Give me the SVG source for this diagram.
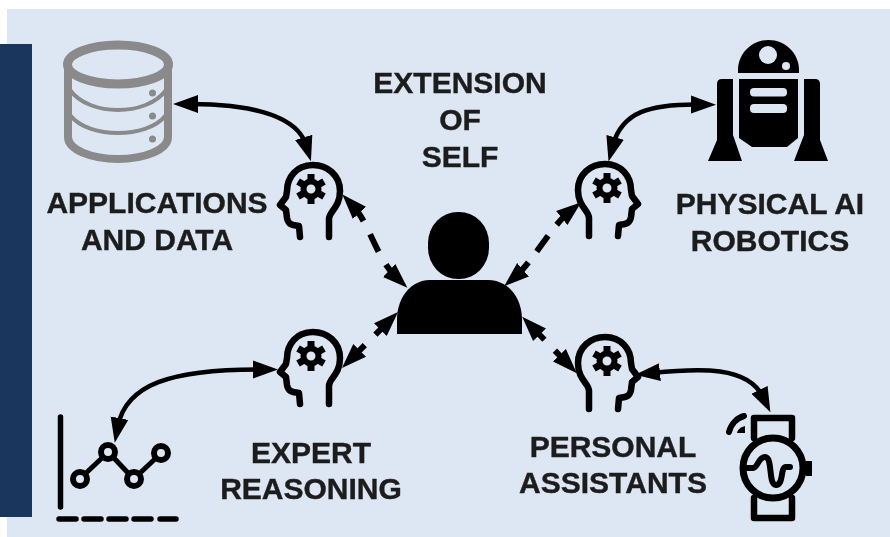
<svg xmlns="http://www.w3.org/2000/svg" xmlns:xlink="http://www.w3.org/1999/xlink" width="890" height="537" viewBox="0 0 890 537">
<style>
.lbl{font-family:"Liberation Sans",Arial,sans-serif;font-weight:700;font-size:30px;fill:#1c1c1c;stroke:#1c1c1c;stroke-width:.4;text-anchor:middle}
.conn{fill:none;stroke:#000;marker-start:url(#head);marker-end:url(#head)}
.solid{stroke-width:4.500}
.dash{stroke-width:6}
.ln{fill:none;stroke:#000;stroke-linecap:round;stroke-linejoin:round}
.db{fill:none;stroke:#8a8a8a}
</style>
<defs>
<filter id="soft" filterUnits="userSpaceOnUse" x="0" y="0" width="890" height="537"><feGaussianBlur stdDeviation="0.6"/></filter>
<marker id="head" markerUnits="userSpaceOnUse" markerWidth="28" markerHeight="22" viewBox="0 0 28 22" refX="8" refY="11" orient="auto-start-reverse">
<polygon points="0,2 25,11 0,20"/>
</marker>
<g id="brain">
<path class="ln" stroke-width="6.500" d="M329,237 V219 C329,211 340,208 340,191 C340,175 327,165 313,165 C297,165 287,177 287,191 L286,197 L280,205 L286,210 L287,218 C288,224 291,225 299,226 L300,237"/>
<circle cx="311" cy="189" r="7.500" fill="none" stroke="#000" stroke-width="6"/>
<path stroke="#000" stroke-width="7" d="M311,174 V180 M311,198 V204 M298,181.500 L303.200,184.500 M318.800,193.500 L324,196.500 M298,196.500 L303.200,193.500 M318.800,184.500 L324,181.500"/>
</g>
</defs>
<rect x="7" y="9" width="883" height="528" fill="#dde7f4"/>
<rect x="0" y="44" width="32" height="473" fill="#1a365d"/>
<g filter="url(#soft)">
<g id="connectors">
<path class="conn solid" d="M190,104 C240,104 296,112 306,145"/>
<path class="conn solid" d="M613,145 C622,112 650,104 699,104.500"/>
<path class="conn solid" d="M118,426 C126,385 170,369 261,369.500"/>
<path class="conn solid" d="M652,373 C700,368 748,366 763,397"/>
<path class="conn dash" stroke-dasharray="17 15 19 15 30" d="M354,207 C368,222 378,260 395,276"/>
<path class="conn dash" stroke-dasharray="17 14 19 14 30" d="M517,275 C532,262 552,226 568,213"/>
<path class="conn dash" stroke-dasharray="15 15 30" d="M386,324 L354,356"/>
<path class="conn dash" stroke-dasharray="15 15 30" d="M534,329 L565,361"/>
</g>

<g id="extension-of-self">
<text class="lbl" x="460" y="93">EXTENSION</text>
<text class="lbl" x="460" y="130">OF</text>
<text class="lbl" x="460" y="167">SELF</text>
</g>

<g id="person">
<rect x="428" y="212" width="61" height="67" rx="30" ry="31"/>
<path d="M397,334 V320 C397,296 412,280 430,280 H488 C507,280 522,296 522,320 V334 Z"/>
</g>

<g id="applications-data">
<ellipse class="db" cx="118" cy="64.500" rx="50.500" ry="19.500" stroke-width="9"/>
<path class="db" stroke-width="8" d="M68,64 V137 C68,150 92,159 118,159 C144,159 168,150 168,137 V64"/>
<path class="db" stroke-width="4" d="M70,90 C80,104 100,110 118,110 C136,110 156,104 166,90 M70,115 C80,128 100,133 118,133 C136,133 156,128 166,115"/>
<circle cx="152.500" cy="93" r="3.500" fill="#8a8a8a"/>
<circle cx="152.500" cy="116" r="3.500" fill="#8a8a8a"/>
<circle cx="152.500" cy="139" r="3.500" fill="#8a8a8a"/>
<text class="lbl" x="157" y="213">APPLICATIONS</text>
<text class="lbl" x="157" y="250">AND DATA</text>
</g>
<g id="agent-applications"><use xlink:href="#brain" href="#brain"/></g>

<g id="physical-ai">
<path d="M738,73 V70 C738,53 752,40 768.500,40 C785,40 799,53 799,70 V73 Z"/>
<circle cx="768" cy="55" r="9" fill="#dde7f4"/>
<circle cx="786" cy="66" r="4" fill="#dde7f4"/>
<path d="M739,79 H798 V138 L787,147 H752 L739,138 Z"/>
<rect x="750" y="88" width="37" height="8.500" rx="4" fill="#dde7f4"/>
<rect x="750" y="104" width="37" height="9" rx="4" fill="#dde7f4"/>
<path d="M722,79 H733 V135 L742,161 H708 L717,140 V84 Q717,79 722,79 Z"/>
<path d="M815,79 H804 V135 L794,161 H828 L820,140 V84 Q820,79 815,79 Z"/>
<text class="lbl" x="770" y="214">PHYSICAL AI</text>
<text class="lbl" x="770" y="251">ROBOTICS</text>
</g>
<g id="agent-physical"><use xlink:href="#brain" href="#brain" transform="translate(918,-1) scale(-1,1)"/></g>

<g id="expert-reasoning">
<path class="ln" stroke-width="5.500" d="M60.500,417 V507"/>
<path class="ln" stroke-width="5.500" d="M59,519 H76 M84,519 H101 M109,519 H126 M134,519 H151 M160,519 H176"/>
<path class="ln" stroke-width="5" d="M85,474 L103,457 M113,457 L129,474 M139,474 L156,458"/>
<circle class="ln" stroke-width="6" cx="80" cy="479" r="7"/>
<circle class="ln" stroke-width="6" cx="108" cy="452" r="7"/>
<circle class="ln" stroke-width="6" cx="134" cy="479" r="7"/>
<circle class="ln" stroke-width="6" cx="161" cy="453" r="7"/>
<text class="lbl" x="311" y="463">EXPERT</text>
<text class="lbl" x="311" y="499">REASONING</text>
</g>
<g id="agent-expert"><use xlink:href="#brain" href="#brain" transform="translate(0,167)"/></g>

<g id="personal-assistants">
<path class="ln" stroke-width="6.500" d="M754,438 V418 H792 V438 M754,498 V518 H792 V498"/>
<circle class="ln" stroke-width="7" cx="773" cy="468" r="30"/>
<rect x="806" y="461" width="6" height="15"/>
<path class="ln" stroke-width="6" d="M747,468 H753 C758,468 758,457 765,457 C773,457 768,485 776,485 C784,485 780,467 786,467 H790"/>
<path class="ln" stroke-width="6" d="M729,432 C731,424 737,418 744,416"/>
<path d="M737,433 C738,429 741,427 745,426 V433 Z"/>
<text class="lbl" x="613" y="457">PERSONAL</text>
<text class="lbl" x="613" y="493">ASSISTANTS</text>
</g>
<g id="agent-personal"><use xlink:href="#brain" href="#brain" transform="translate(918,172) scale(-1,1)"/></g>
</g>
</svg>
